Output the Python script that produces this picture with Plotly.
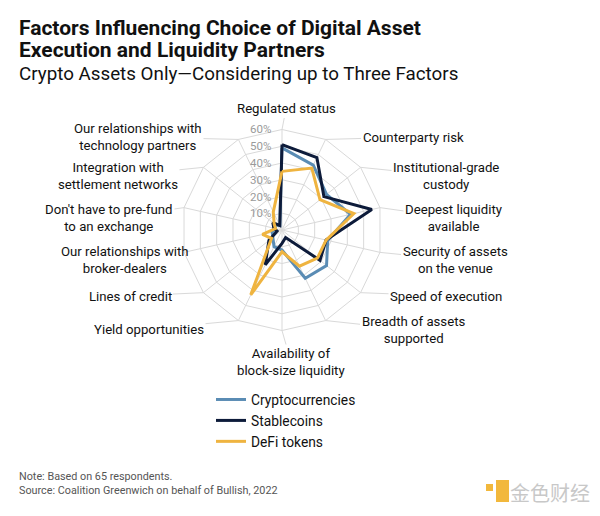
import math
import plotly.graph_objects as go

# categories, clockwise from the top
categories = [
    "Regulated status",
    "Counterparty risk",
    "Institutional-grade<br>custody",
    "Deepest liquidity<br>available",
    "Security of assets<br>on the venue",
    "Speed of execution",
    "Breadth of assets<br>supported",
    "Availability of<br>block-size liquidity",
    "Yield opportunities",
    "Lines of credit",
    "Our relationships with<br>broker-dealers",
    "Don't have to pre-fund<br>to an exchange",
    "Integration with<br>settlement networks",
    "Our relationships with<br>technology partners",
]

# share of respondents, %
cryptocurrencies = [49, 43, 34, 42, 28, 34, 32, 12, 11, 7, 6, 4, 5, 3]
stablecoins = [51, 48, 32, 55, 27, 29, 5, 8, 23, 10, 3, 5, 7, 3]
defi_tokens = [35, 41, 29, 44, 27, 27, 24, 13, 43, 8, 12, 4, 6, 12]

radial_ticks = [10, 20, 30, 40, 50, 60]

series = [
    ("Cryptocurrencies", cryptocurrencies, "#5a8cb4"),
    ("Stablecoins", stablecoins, "#0d1b3a"),
    ("DeFi tokens", defi_tokens, "#efb440"),
]

# where each category label sits on the page (px, centre of text)
label_pos = [
    (286, 109), (413, 137), (446, 176), (454, 218), (455, 260),
    (446, 296), (413, 330), (291, 362), (149, 329), (130, 296),
    (125, 260), (109, 218), (118, 176), (138, 137),
]

W, H = 600, 516
OFF = 8  # the page body margin pushes the figure 8px right and down
GRID = "#d9d9d9"


def fx(x):
    return (x - OFF) / W


def fy(y):
    return 1 - (y - OFF) / H


# polar geometry (page px)
cx, cy = 282, 230
r_max = 60
px_per_pct = 1.675
rad = r_max * px_per_pct

fig = go.Figure()
for name, vals, color in series:
    fig.add_trace(go.Scatterpolar(
        r=vals + vals[:1],
        theta=categories + categories[:1],
        mode="lines",
        name=name,
        line=dict(color=color, width=3),
    ))

fig.update_layout(
    width=W,
    height=H,
    margin=dict(l=0, r=0, t=0, b=0),
    paper_bgcolor="white",
    font=dict(family="Roboto, Arial, sans-serif", color="#111111"),
    polar=dict(
        domain=dict(x=[fx(cx - rad), fx(cx + rad)], y=[fy(cy + rad), fy(cy - rad)]),
        bgcolor="white",
        gridshape="linear",
        radialaxis=dict(
            range=[0, r_max],
            angle=90,
            tickvals=radial_ticks,
            showticklabels=False,
            showline=False,
            ticks="",
            gridcolor=GRID,
            gridwidth=1,
        ),
        angularaxis=dict(
            direction="clockwise",
            rotation=90,
            showline=True,
            linecolor=GRID,
            linewidth=1,
            gridcolor=GRID,
            ticks="",
            showticklabels=False,
        ),
    ),
    showlegend=True,
    legend=dict(
        orientation="v",
        x=fx(211), xanchor="left",
        y=fy(384), yanchor="top",
        font=dict(size=13.8, color="#111111"),
        itemwidth=30,
        tracegroupgap=0,
        bgcolor="rgba(0,0,0,0)",
    ),
)

# radial tick labels, placed along the vertical axis
for v in radial_ticks:
    fig.add_annotation(
        text=f"{v}%", x=fx(cx - 9), y=fy(cy - v * px_per_pct),
        xref="paper", yref="paper", showarrow=False,
        xanchor="right", yanchor="middle",
        font=dict(size=11.5, color="#9a9a9a"),
    )

# category labels with leader lines running to the outer ring
n = len(categories)
for k, (cat, (lx, ly)) in enumerate(zip(categories, label_pos)):
    ang = math.radians(k * 360 / n)
    vx = cx + rad * math.sin(ang)
    vy = cy - rad * math.cos(ang)
    fig.add_annotation(
        text=cat, x=fx(vx), y=fy(vy), xref="paper", yref="paper",
        showarrow=True, arrowhead=0, arrowwidth=1, arrowcolor=GRID,
        ax=lx - vx, ay=ly - vy, standoff=0,
        align="center", xanchor="center", yanchor="middle",
        font=dict(size=13.2, color="#111111"),
    )

# title block
for txt, y, size in [
    ("<b>Factors Influencing Choice of Digital Asset</b>", 28, 21),
    ("<b>Execution and Liquidity Partners</b>", 50, 21),
    ("Crypto Assets Only\u2014Considering up to Three Factors", 74, 18.8),
]:
    fig.add_annotation(
        text=txt, x=fx(17), y=fy(y), xref="paper", yref="paper", showarrow=False,
        xanchor="left", yanchor="middle", align="left",
        font=dict(size=size, color="#111111"),
    )

fig.add_annotation(
    text="Note: Based on 65 respondents.<br>Source: Coalition Greenwich on behalf of Bullish, 2022",
    x=fx(17), y=fy(468), xref="paper", yref="paper", showarrow=False,
    xanchor="left", yanchor="top", align="left",
    font=dict(size=10.8, color="#555555"),
)

fig.add_annotation(
    text="金色财经",
    x=fx(592), y=fy(492), xref="paper", yref="paper", showarrow=False,
    xanchor="right", yanchor="middle",
    font=dict(size=20, color="#c8c8c8", family="Noto Sans CJK SC"),
)

# watermark logo
fig.add_shape(type="rect", xref="paper", yref="paper",
              x0=fx(486), x1=fx(493), y0=fy(491), y1=fy(484),
              fillcolor="#f2b83c", line_width=0)
fig.add_shape(type="rect", xref="paper", yref="paper",
              x0=fx(496), x1=fx(509), y0=fy(502), y1=fy(480),
              fillcolor="#f2b83c", line_width=0)

fig.write_html("out.html")
